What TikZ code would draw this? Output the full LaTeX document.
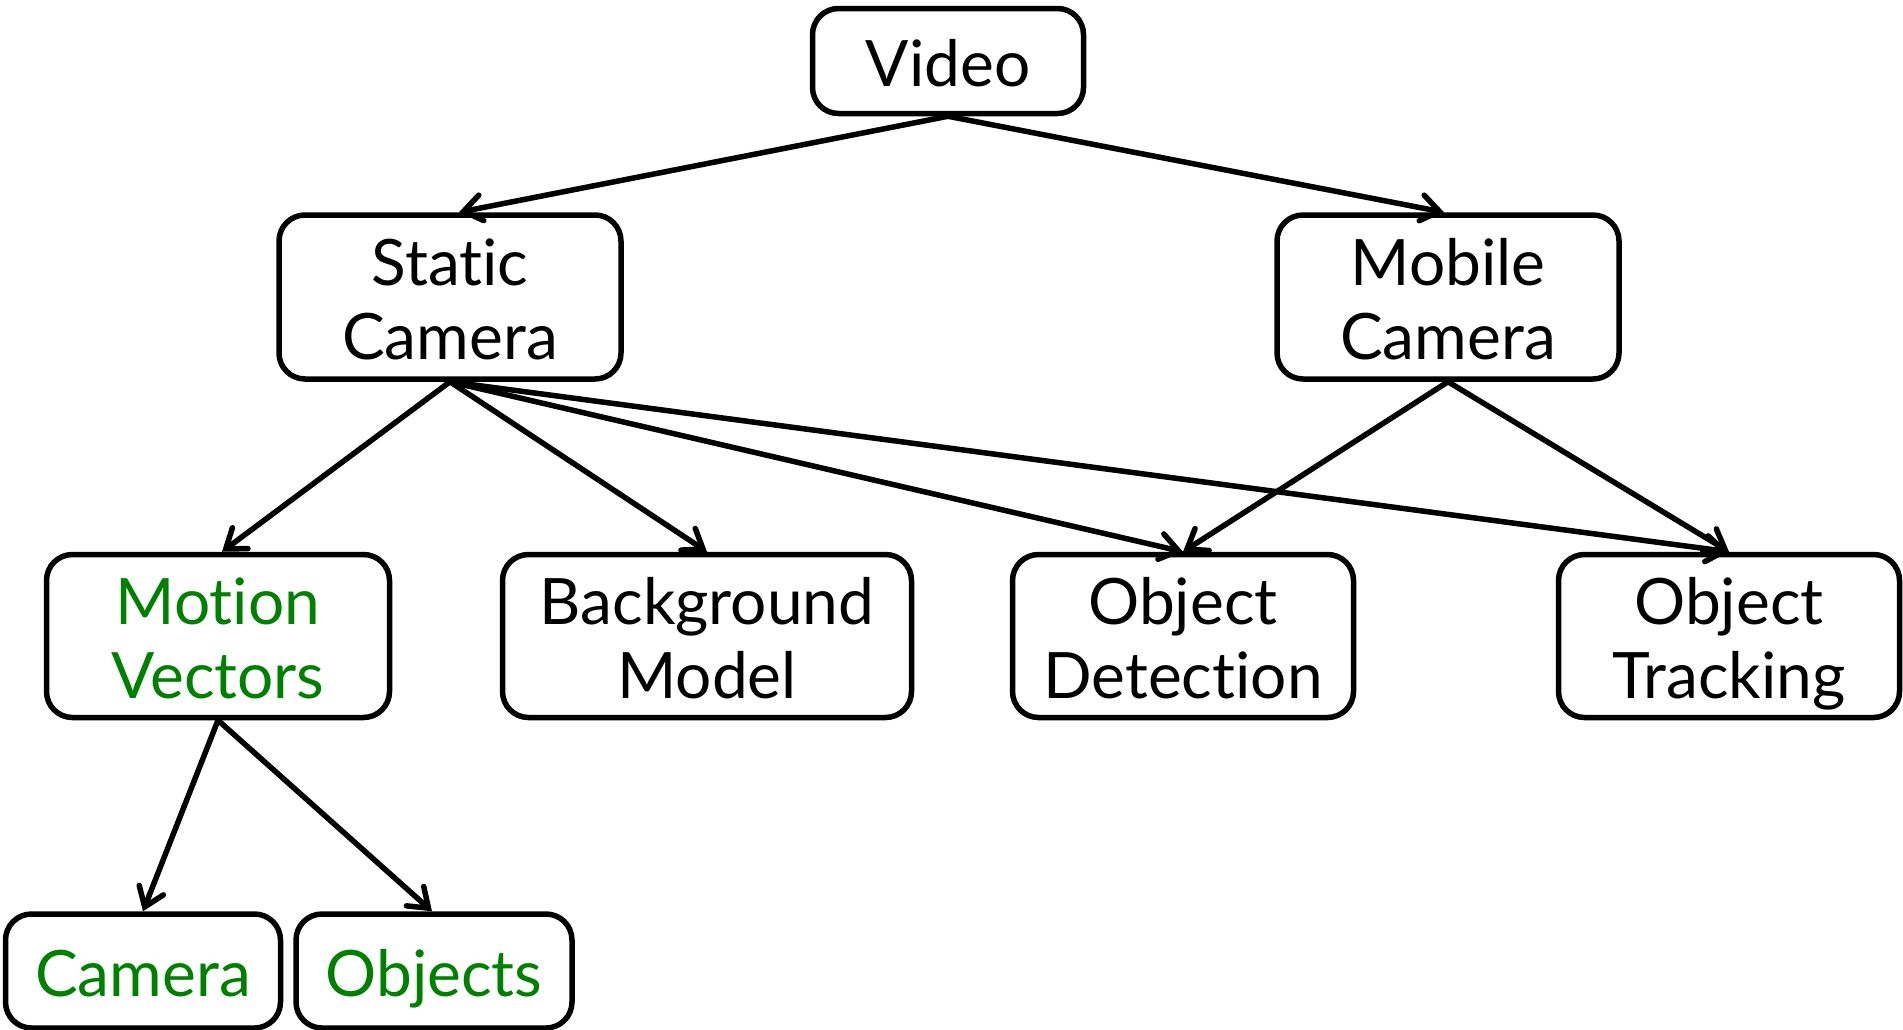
\documentclass[tikz,border=0pt]{standalone}
\usepackage{fontspec}
\setmainfont{Lato}[Ligatures=NoCommon]
\usetikzlibrary{arrows.meta}
\definecolor{mvgreen}{RGB}{0,128,0}
\newcommand\lnstrut{\rule[-15pt]{0pt}{80pt}}
\begin{document}
\lineskiplimit=-200pt
\begin{tikzpicture}[x=1pt,y=-1pt,
  box/.style={draw,line width=5.5pt,rounded corners=26pt,align=center,inner sep=0pt,
    font=\fontsize{64}{74}\selectfont},
  conn/.style={line width=5.5pt,-{Straight Barb[length=18pt,width=26pt,line width=5.5pt,line cap=round]}},
  grn/.style={text=mvgreen}]
\useasboundingbox (0,0) rectangle (1903,1029);
\node[box,minimum width=271pt,minimum height=105pt] (video) at (948,61) {\lnstrut Video};
\node[box,minimum width=342pt,minimum height=164pt] (static) at (450,297) {\lnstrut Static\\\lnstrut Camera};
\node[box,minimum width=342pt,minimum height=164pt] (mobile) at (1448,297) {\lnstrut Mobile\\\lnstrut Camera};
\node[box,grn,minimum width=343pt,minimum height=163pt] (mv) at (218,636) {\lnstrut Motion\\\lnstrut Vectors};
\node[box,minimum width=409pt,minimum height=163pt] (bg) at (707,636) {\lnstrut Background\\\lnstrut Model};
\node[box,minimum width=341pt,minimum height=163pt] (det) at (1183,636) {\lnstrut Object\\\lnstrut Detection};
\node[box,minimum width=341pt,minimum height=163pt] (trk) at (1729,636) {\lnstrut Object\\\lnstrut Tracking};
\node[box,grn,minimum width=275pt,minimum height=114pt] (cam) at (143,971) {\lnstrut Camera};
\node[box,grn,minimum width=276pt,minimum height=114pt] (obj) at (434,971) {\lnstrut Objects};
\draw[conn] (video.south) -- ([xshift=9pt]static.north);
\draw[conn] (video.south) -- ([xshift=-4pt]mobile.north);
\draw[conn] (static.south) -- ([xshift=4pt]mv.north);
\draw[conn] (static.south) -- (bg.north);
\draw[conn] (static.south) -- (det.north);
\draw[conn] (static.south) -- (trk.north);
\draw[conn] (mobile.south) -- (det.north);
\draw[conn] (mobile.south) -- (trk.north);
\draw[conn] (mv.south) -- (cam.north);
\draw[conn] (mv.south) -- ([xshift=-2pt]obj.north);
\end{tikzpicture}
\end{document}
